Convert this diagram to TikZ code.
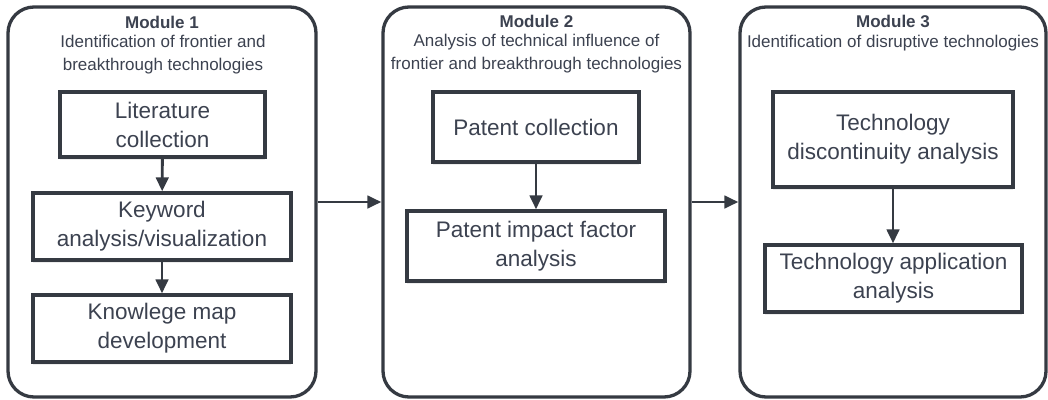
\documentclass[tikz,border=0pt]{standalone}
\usepackage{fontspec}
\setmainfont{Liberation Sans}
\usetikzlibrary{arrows.meta,shadows}
\definecolor{edge}{HTML}{353A42}
\definecolor{txt}{HTML}{3C4250}
\tikzset{
  module/.style={draw=edge, line width=3.3pt, rounded corners=26pt, fill=white, minimum height=390pt, inner sep=0pt},
  stepbox/.style={draw=edge, line width=3.3pt, fill=white, inner sep=0pt, align=center, text=txt,
    font=\fontsize{22.5}{29}\selectfont,
    drop shadow={shadow xshift=0pt, shadow yshift=-3pt, opacity=0.15}},
  title/.style={text=txt, font=\fontsize{17}{22}\selectfont\bfseries, inner sep=0pt},
  subtitle/.style={text=txt, font=\fontsize{17}{23}\selectfont, align=center, inner sep=0pt},
  flow/.style={draw=edge, line width=2.9pt, -{Triangle[length=14pt,width=12.5pt]}}
}
\begin{document}
\begin{tikzpicture}[x=1pt,y=-1pt]
\useasboundingbox (0,0) rectangle (1048,399);
% modules
\node[module, minimum width=308pt] (m1) at (162,202) {};
\node[module, minimum width=307pt] (m2) at (536.5,202) {};
\node[module, minimum width=306pt] (m3) at (893,202) {};
% titles
\node[title] (t1) at (162,22) {Module 1};
\node[subtitle] (s1) at (163,54.5) {Identification of frontier and\\breakthrough technologies};
\node[title] (t2) at (536.5,21) {Module 2};
\node[subtitle] (s2) at (536.5,54) {Analysis of technical influence of\\frontier and breakthrough technologies};
\node[title] (t3) at (893,21) {Module 3};
\node[subtitle] (s3) at (893,43) {Identification of disruptive technologies};
% module 1 steps
\node[stepbox, minimum width=205pt, minimum height=65pt] (lit) at (162.5,124.5) {Literature\\collection};
\node[stepbox, minimum width=258pt, minimum height=67pt] (kw) at (162,226.5) {Keyword\\analysis/visualization};
\node[stepbox, minimum width=258pt, minimum height=67pt] (km) at (162,328.5) {Knowlege map\\development};
% module 2 steps
\node[stepbox, minimum width=206pt, minimum height=70pt] (pc) at (536,127) {Patent collection};
\node[stepbox, minimum width=258pt, minimum height=70pt] (pif) at (536,246) {Patent impact factor\\analysis};
% module 3 steps
\node[stepbox, minimum width=240pt, minimum height=95pt] (tda) at (893,139.5) {Technology\\discontinuity analysis};
\node[stepbox, minimum width=257pt, minimum height=67pt] (taa) at (893.5,278.5) {Technology application\\analysis};
% connectors
\draw[flow] (lit) -- (kw);
\draw[flow] (kw) -- (km);
\draw[flow] (pc) -- (pif);
\draw[flow] (tda.south) -- (tda.south |- taa.north);
\draw[flow] (m1) -- (m2);
\draw[flow] (m2) -- (m3);
\end{tikzpicture}
\end{document}
